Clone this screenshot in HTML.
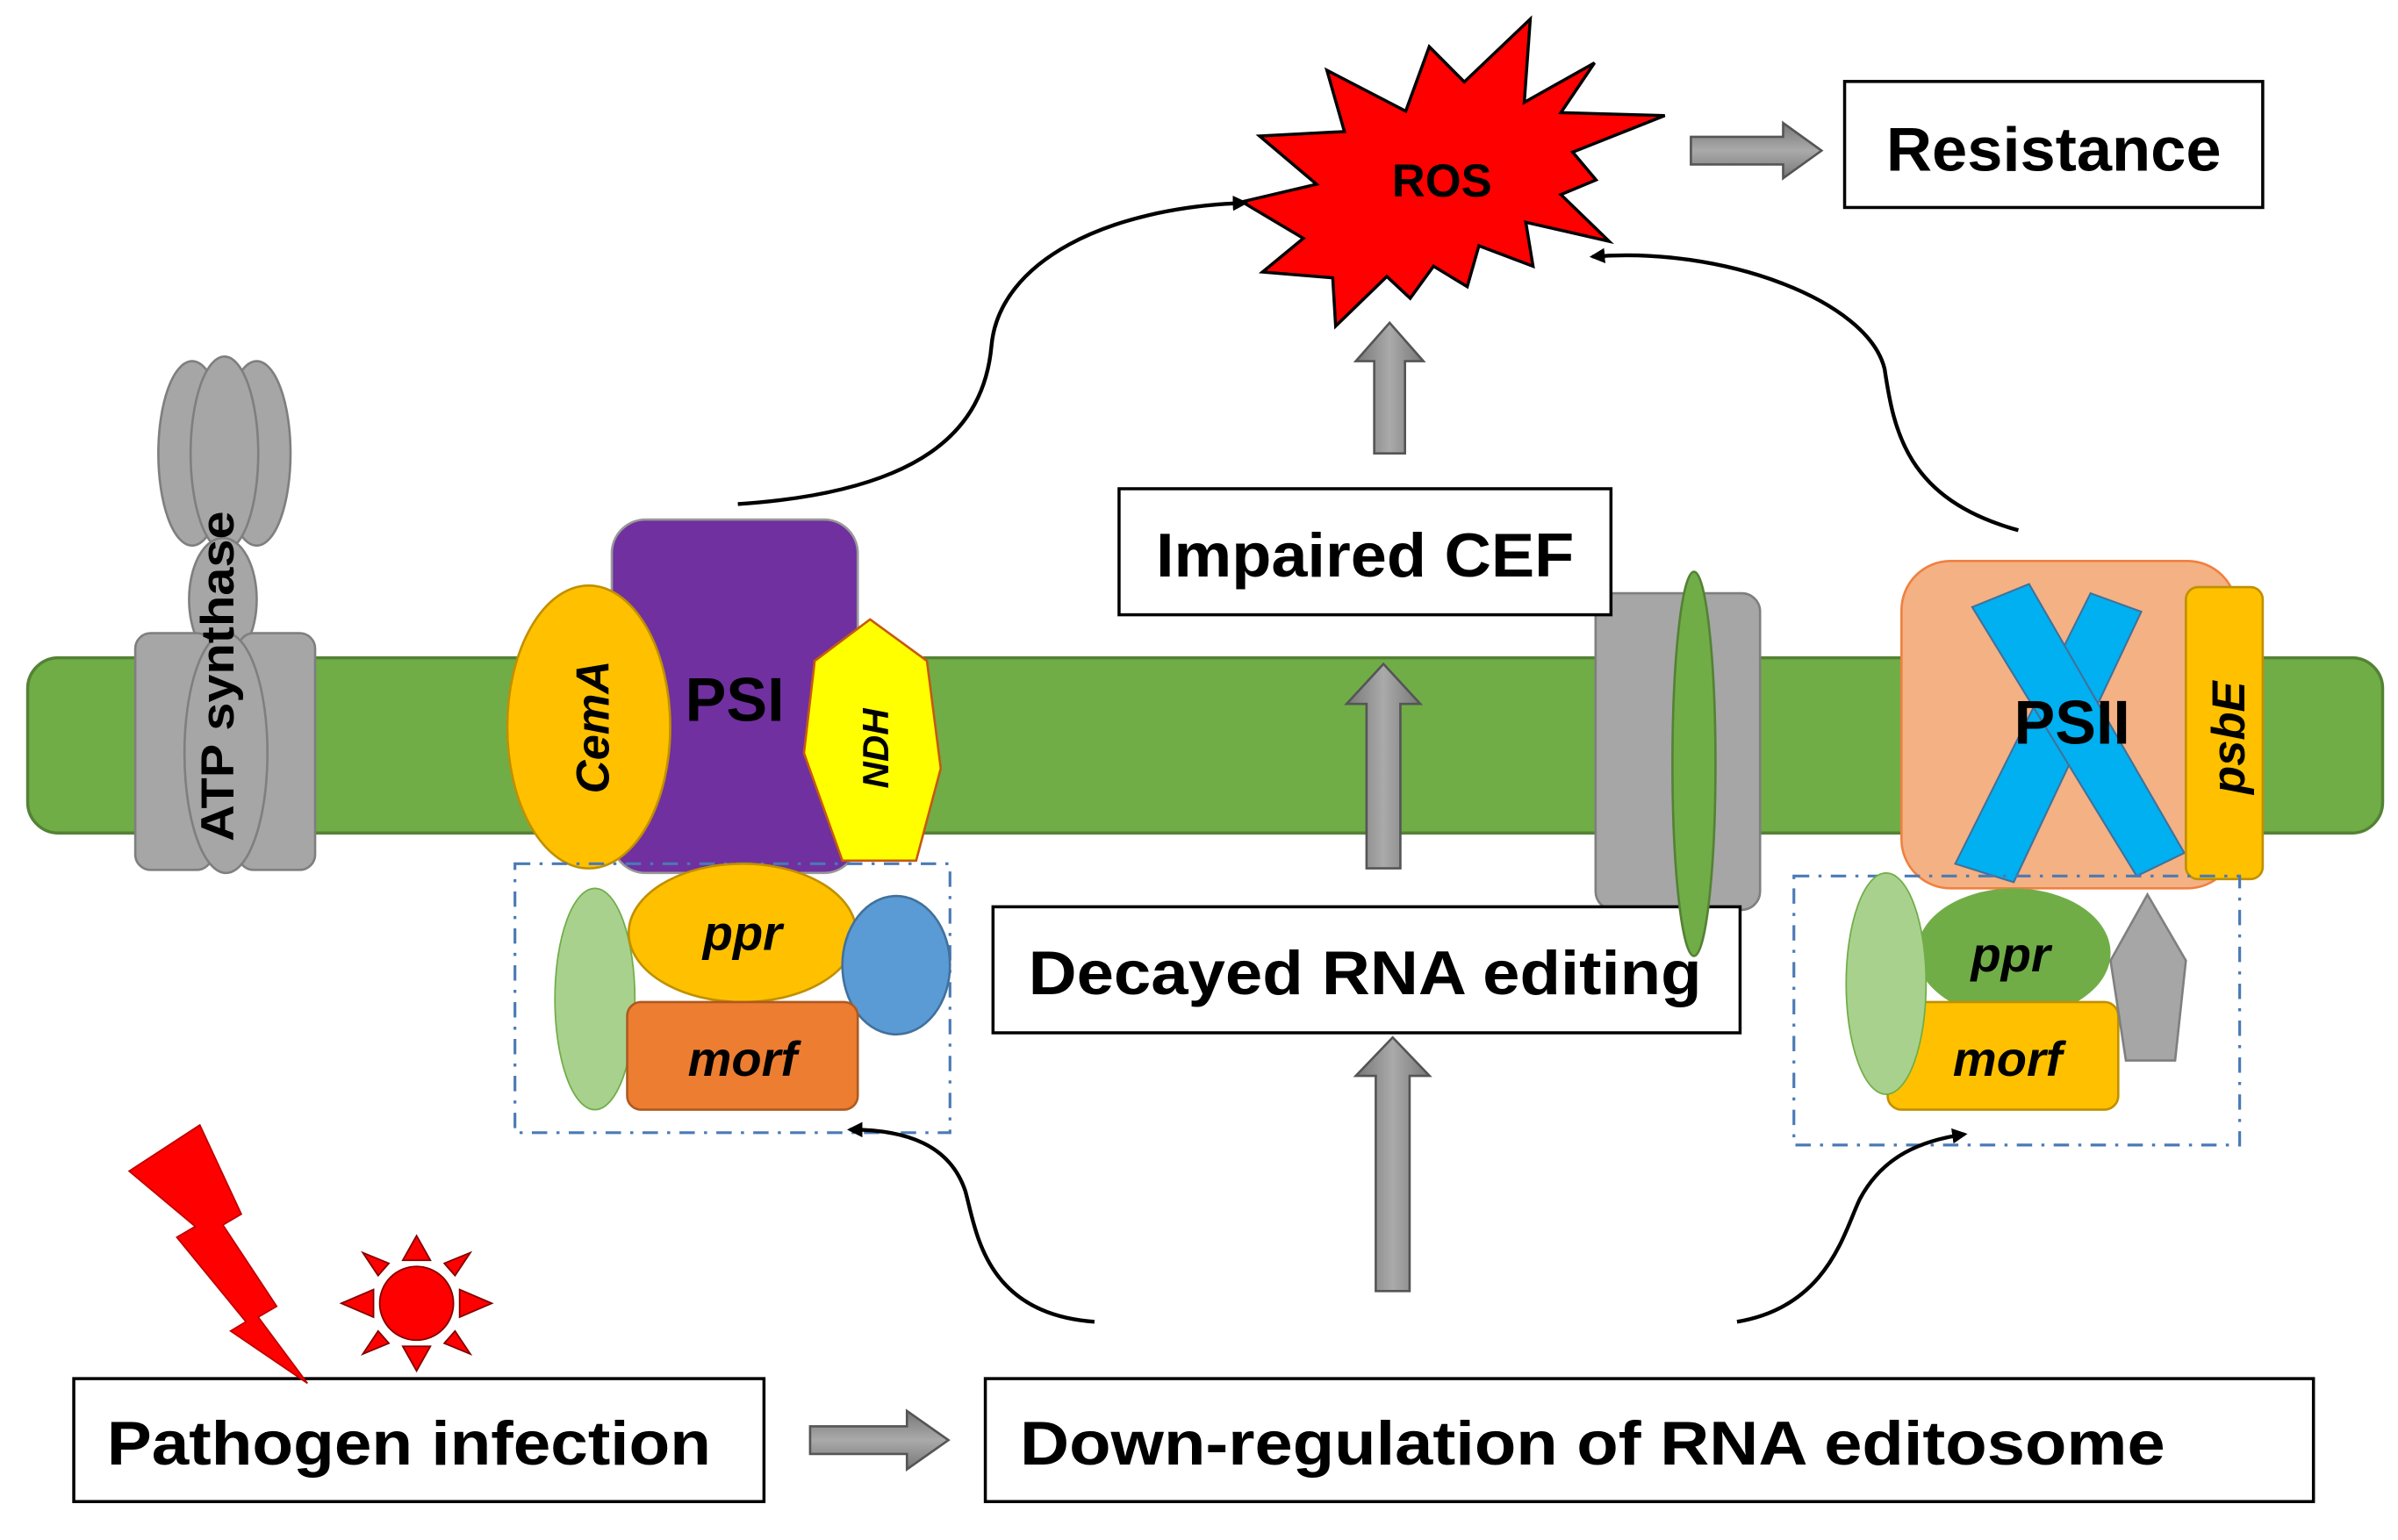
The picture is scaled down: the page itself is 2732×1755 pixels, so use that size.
<!DOCTYPE html>
<html><head><meta charset="utf-8"><style>
html,body{margin:0;padding:0;background:#fff;}
svg{display:block;}
text{font-family:"Liberation Sans",sans-serif;font-weight:bold;}
</style></head><body>
<svg width="2732" height="1755" viewBox="0 0 1560 1002" preserveAspectRatio="none" xmlns="http://www.w3.org/2000/svg">
<defs>
<marker id="ah" markerWidth="10" markerHeight="10" refX="8" refY="5" orient="auto" markerUnits="userSpaceOnUse"><path d="M0,0 L10,5 L0,10 z" fill="#000"/></marker>
<linearGradient id="gy" x1="0" x2="1" y1="0" y2="0"><stop offset="0" stop-color="#777"/><stop offset="0.5" stop-color="#aaa"/><stop offset="1" stop-color="#777"/></linearGradient>
<linearGradient id="gyv" x1="0" x2="0" y1="0" y2="1"><stop offset="0" stop-color="#777"/><stop offset="0.5" stop-color="#aaa"/><stop offset="1" stop-color="#777"/></linearGradient>
</defs>
<rect x="18" y="428" width="1532" height="114" rx="20" fill="#70ad47" stroke="#548235" stroke-width="2"/>
<g fill="#a6a6a6" stroke="#7f7f7f" stroke-width="1.5">
<ellipse cx="125" cy="295" rx="22" ry="60"/>
<ellipse cx="167" cy="295" rx="22" ry="60"/>
<ellipse cx="146" cy="295" rx="22" ry="63"/>
<ellipse cx="145" cy="390" rx="22" ry="40"/>
<rect x="88" y="412" width="50" height="154" rx="10"/>
<rect x="155" y="412" width="50" height="154" rx="10"/>
<ellipse cx="147" cy="490" rx="27" ry="78"/>
</g>
<text transform="translate(152,440) rotate(-90)" font-size="30" text-anchor="middle" textLength="215" lengthAdjust="spacingAndGlyphs">ATP synthase</text>
<rect x="398" y="338" width="160" height="230" rx="22" fill="#7030a0" stroke="#999" stroke-width="1.5"/>
<ellipse cx="383" cy="473" rx="53" ry="92" fill="#ffc000" stroke="#c09000" stroke-width="1.5"/>
<text transform="translate(396,473) rotate(-90)" font-size="30" font-style="italic" text-anchor="middle">CemA</text>
<text x="478" y="469" font-size="40" text-anchor="middle">PSI</text>
<polygon points="566,403 603,430 612,500 596,560 548,560 523,490 530,430" fill="#ffff00" stroke="#c55a11" stroke-width="1.5"/>
<text transform="translate(578,487) rotate(-90)" font-size="24" font-style="italic" text-anchor="middle">NDH</text>
<rect x="335" y="562" width="283" height="175" fill="none" stroke="#4a7ab5" stroke-width="1.8" stroke-dasharray="10,6,2,6"/>
<ellipse cx="387" cy="650" rx="26" ry="72" fill="#a9d18e" stroke="#70ad47" stroke-width="1"/>
<ellipse cx="483" cy="607" rx="74" ry="45" fill="#ffc000" stroke="#c09000" stroke-width="1.5"/>
<text x="483" y="618" font-size="32" font-style="italic" text-anchor="middle">ppr</text>
<ellipse cx="583" cy="628" rx="35" ry="45" fill="#5b9bd5" stroke="#41719c" stroke-width="1.5"/>
<rect x="408" y="652" width="150" height="70" rx="9" fill="#ed7d31" stroke="#ae5a21" stroke-width="1.5"/>
<text x="483" y="700" font-size="32" font-style="italic" text-anchor="middle">morf</text>
<rect x="1038" y="386" width="107" height="206" rx="12" fill="#a6a6a6" stroke="#7f7f7f" stroke-width="1.5"/>
<rect x="1237" y="365" width="218" height="213" rx="32" fill="#f4b183" stroke="#f08040" stroke-width="1.5"/>
<polygon points="1360,386 1393,398 1310,574 1272,562" fill="#00b0f0" stroke="#41719c" stroke-width="1.2"/>
<polygon points="1283,395 1320,380 1421,555 1390,570" fill="#00b0f0" stroke="#41719c" stroke-width="1.2"/>
<text x="1348" y="484" font-size="40" text-anchor="middle">PSII</text>
<rect x="1422" y="382" width="50" height="190" rx="8" fill="#ffc000" stroke="#c09000" stroke-width="1.5"/>
<text transform="translate(1460,480) rotate(-90)" font-size="30" font-style="italic" text-anchor="middle">psbE</text>
<rect x="1167" y="570" width="290" height="175" fill="none" stroke="#4a7ab5" stroke-width="1.8" stroke-dasharray="10,6,2,6"/>
<ellipse cx="1310" cy="620" rx="63" ry="42" fill="#70ad47"/>
<text x="1308" y="632" font-size="32" font-style="italic" text-anchor="middle">ppr</text>
<rect x="1228" y="652" width="150" height="70" rx="9" fill="#ffc000" stroke="#c09000" stroke-width="1.5"/>
<text x="1306" y="700" font-size="32" font-style="italic" text-anchor="middle">morf</text>
<ellipse cx="1227" cy="640" rx="26" ry="72" fill="#a9d18e" stroke="#70ad47" stroke-width="1"/>
<polygon points="1397,582 1422,625 1415,690 1383,690 1373,625" fill="#a6a6a6" stroke="#7f7f7f" stroke-width="1.5"/>
<polygon points="995.5,12.4 991.6,66.6 1037.3,40.9 1015.4,73.3 1083,75.2 1023.1,99 1038.3,117.1 1015.4,126.6 1046.8,157 992.6,144.6 997.3,173.2 962.1,159.9 954.5,186.5 932.6,173.2 917.4,194.1 902.2,179.9 868.9,212.2 867,180.8 821.3,177 847.9,155.1 808,131.3 856.5,119.9 819.4,88.5 874.6,85.6 863.2,45.7 914.5,72.3 929.8,30.4 952.6,53.3" fill="#ff0000" stroke="#000" stroke-width="2"/>
<text x="938" y="128" font-size="30" text-anchor="middle">ROS</text>
<g fill="#fff" stroke="#000" stroke-width="2">
<rect x="1200" y="53" width="272" height="82"/>
<rect x="728" y="318" width="320" height="82"/>
<rect x="646" y="590" width="486" height="82"/>
<rect x="48" y="897" width="449" height="80"/>
<rect x="641" y="897" width="864" height="80"/>
</g>
<ellipse cx="1102" cy="497" rx="14" ry="125" fill="#70ad47" stroke="#548235" stroke-width="1.5"/>
<text x="1336" y="111" font-size="40" text-anchor="middle" textLength="218" lengthAdjust="spacingAndGlyphs">Resistance</text>
<text x="888" y="375" font-size="40" text-anchor="middle" textLength="272" lengthAdjust="spacingAndGlyphs">Impaired CEF</text>
<text x="888" y="647" font-size="40" text-anchor="middle" textLength="438" lengthAdjust="spacingAndGlyphs">Decayed RNA editing</text>
<text x="266" y="953" font-size="40" text-anchor="middle" textLength="393" lengthAdjust="spacingAndGlyphs">Pathogen infection</text>
<text x="1036" y="953" font-size="40" text-anchor="middle" textLength="745" lengthAdjust="spacingAndGlyphs">Down-regulation of RNA editosome</text>
<g stroke="#555" stroke-width="1.5">
<polygon points="1100,89 1160,89 1160,80 1185,98 1160,116 1160,107 1100,107" fill="url(#gyv)"/>
<polygon points="527,928 590,928 590,918 617,937 590,956 590,946 527,946" fill="url(#gyv)"/>
<polygon points="894,295 894,235 882,235 904,210 926,235 914,235 914,295" fill="url(#gy)"/>
<polygon points="889,565 889,458 876,458 900,432 924,458 911,458 911,565" fill="url(#gy)"/>
<polygon points="895,840 895,700 882,700 906,675 930,700 917,700 917,840" fill="url(#gy)"/>
</g>
<g fill="none" stroke="#000" stroke-width="2.5">
<path d="M480,328 C600,320 640,280 645,225 C650,170 720,135 810,132" marker-end="url(#ah)"/>
<path d="M1313,345 C1240,325 1232,280 1226,240 C1215,195 1120,160 1036,167" marker-end="url(#ah)"/>
<path d="M712,860 C640,855 635,800 628,775 C618,745 590,735 553,735" marker-end="url(#ah)"/>
<path d="M1130,860 C1190,850 1200,800 1210,780 C1225,752 1250,742 1278,738" marker-end="url(#ah)"/>
</g>
<polygon points="84,762 130,732 157,790 145,797 180,850 168,857 200,900 150,866 160,860 115,805 127,798" fill="#ff0000" stroke="#c00000" stroke-width="1"/>
<g fill="#ff0000" stroke="#800000" stroke-width="1">
<circle cx="271" cy="848" r="24"/>
<polygon points="262,820 271,804 280,820"/>
<polygon points="262,876 271,892 280,876"/>
<polygon points="243,839 222,848 243,857"/>
<polygon points="299,839 320,848 299,857"/>
<polygon points="246,830 236,815 253,822"/>
<polygon points="296,830 306,815 289,822"/>
<polygon points="246,866 236,881 253,874"/>
<polygon points="296,866 306,881 289,874"/>
</g>
</svg>
</body></html>
